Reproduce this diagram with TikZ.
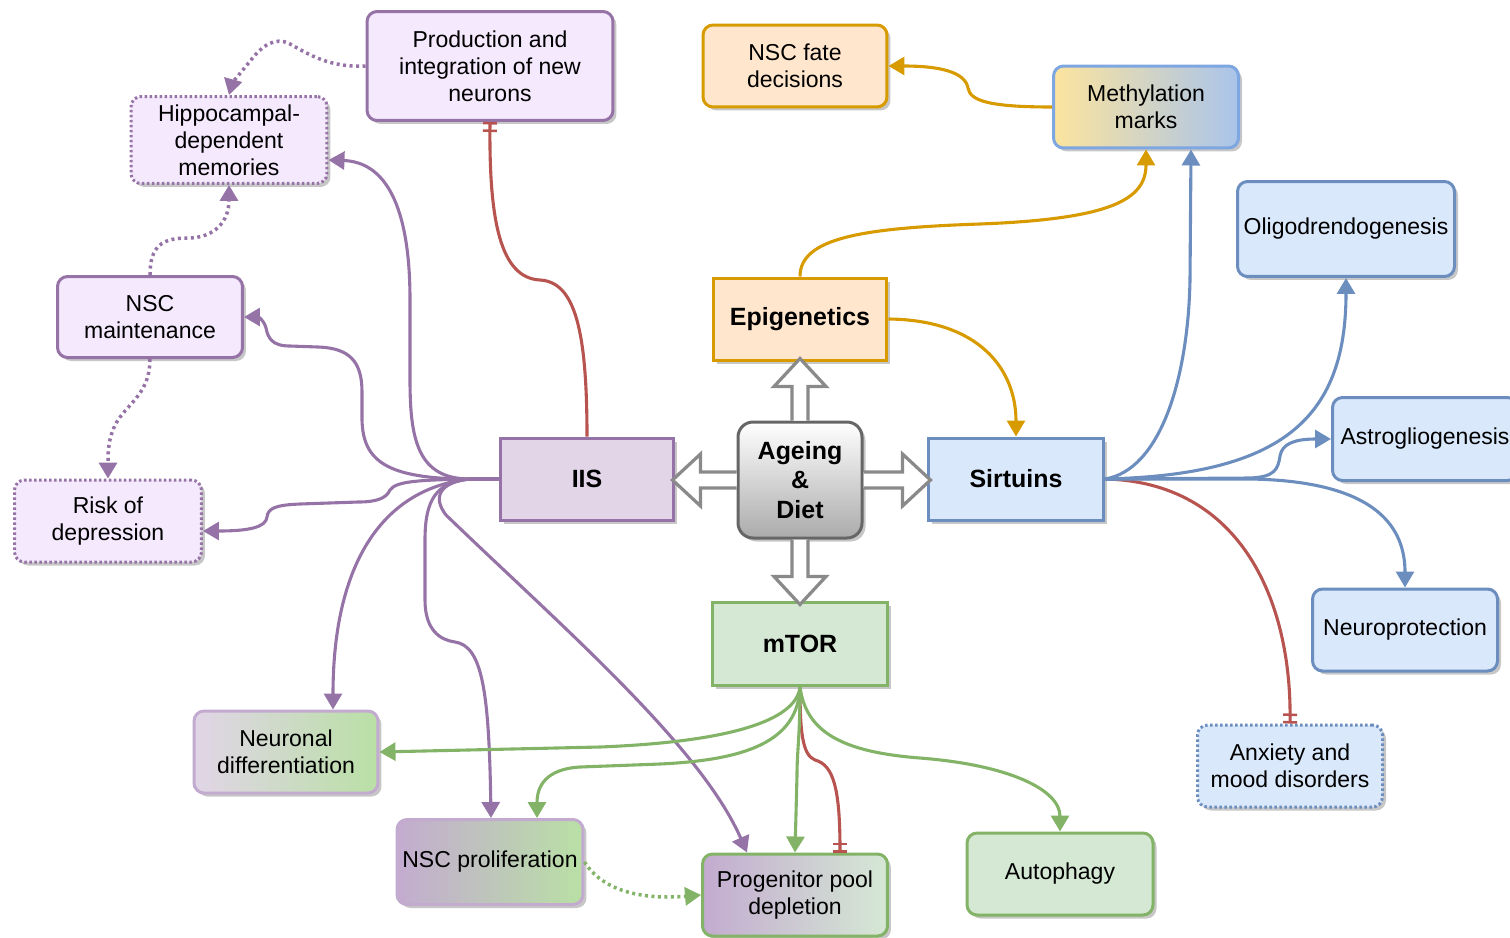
\documentclass[tikz,border=0pt]{standalone}
\usepackage{fontspec}
\setmainfont{Liberation Sans}
\usetikzlibrary{arrows.meta,positioning,shadows,calc}
\definecolor{purpline}{HTML}{9673A6}
\definecolor{purpfill}{HTML}{E1D5E7}
\definecolor{lavfill}{HTML}{F5E9FD}
\definecolor{lilac}{HTML}{C3ABD0}
\definecolor{orangeline}{HTML}{D79B00}
\definecolor{orangefill}{HTML}{FFE6CC}
\definecolor{blueline}{HTML}{6C8EBF}
\definecolor{bluefill}{HTML}{DAE8FC}
\definecolor{skyline}{HTML}{7EA6E0}
\definecolor{skyfill}{HTML}{A9C4EB}
\definecolor{sandfill}{HTML}{FCE49E}
\definecolor{greenline}{HTML}{82B366}
\definecolor{greenfill}{HTML}{D5E8D4}
\definecolor{leaffill}{HTML}{B9E0A5}
\definecolor{redline}{HTML}{B85450}
\definecolor{arrgray}{HTML}{8A8A8A}

\tikzset{
  box/.style={line width=0.06cm, align=center, inner sep=1pt, text=black,
    font=\fontsize{13.1}{15.4}\selectfont,
    drop shadow={shadow xshift=0.07cm, shadow yshift=-0.07cm, fill=black, opacity=0.22}},
  rbox/.style={box, rounded corners=0.2cm},
  dotbox/.style={rbox, dash pattern=on 0.05cm off 0.05cm},
  hub/.style={box, font=\fontsize{14.2}{17}\selectfont\bfseries},
  link/.style={line width=0.062cm, -{Triangle[length=0.32cm,width=0.36cm]}},
  dotlink/.style={link, line width=0.07cm, dash pattern=on 0.06cm off 0.07cm},
  cutoff/.style={line width=0.062cm, draw=redline,
    -{Bar[width=0.28cm,line width=0.05cm,sep=0.1cm]Bar[width=0.28cm,line width=0.05cm]}},
  fatarr/.style={draw=arrgray, fill=white, line width=0.065cm},
  pics/bigarrow/.style={code={
    \path[fatarr] (-8,0) -- (-8,{28-#1}) -- (-26,{28-#1}) -- (0,-#1)
      -- (26,{28-#1}) -- (8,{28-#1}) -- (8,0);}}
}

\begin{document}
\begin{tikzpicture}[x=0.02cm, y=-0.02cm]
  \useasboundingbox (0,0) rectangle (1510,937);
  \clip (0,0) rectangle (1510,937);

  % hubs
  \node[box, rounded corners=0.3cm, draw=black!60, top color=white, bottom color=black!33,
    minimum width=2.48cm, minimum height=2.32cm, font=\fontsize{14.2}{17}\selectfont\bfseries]
    (age) at (800,480) {Ageing\\\&\\Diet};
  \node[hub, draw=purpline, fill=purpfill, minimum width=3.48cm, minimum height=1.64cm] (iis) at (587,479) {IIS};
  \node[hub, draw=orangeline, fill=orangefill, minimum width=3.48cm, minimum height=1.64cm] (epi) at (800,319) {Epigenetics};
  \node[hub, draw=blueline, fill=bluefill, minimum width=3.5cm, minimum height=1.64cm] (sirt) at (1016,479) {Sirtuins};
  \node[hub, draw=greenline, fill=greenfill, minimum width=3.5cm, minimum height=1.66cm] (mtor) at (800,644) {mTOR};

  % block arrows
  \pic at (age.north) {bigarrow=62};
  \pic[rotate=90] at (age.west) {bigarrow=64};
  \pic[rotate=-90] at (age.east) {bigarrow=67};
  \pic[rotate=180] at (age.south) {bigarrow=65};

  % IIS side
  \node[rbox, draw=purpline, fill=lavfill, minimum width=4.92cm, minimum height=2.18cm] (prod) at (490,66) {Production and\\integration of new\\neurons};
  \node[dotbox, draw=purpline, fill=lavfill, minimum width=3.92cm, minimum height=1.74cm] (hippo) at (229,140) {Hippocampal-\\dependent\\memories};
  \node[rbox, draw=purpline, fill=lavfill, minimum width=3.7cm, minimum height=1.62cm] (maint) at (150,317) {NSC\\maintenance};
  \node[dotbox, draw=purpline, fill=lavfill, minimum width=3.74cm, minimum height=1.64cm] (risk) at (108,521) {Risk of\\depression};

  % Epigenetics side
  \node[rbox, draw=orangeline, fill=orangefill, minimum width=3.68cm, minimum height=1.64cm] (fate) at (795,66) {NSC fate\\decisions};
  \node[rbox, draw=skyline, left color=sandfill, right color=skyfill, minimum width=3.7cm, minimum height=1.64cm] (meth) at (1146,107) {Methylation\\marks};

  % Sirtuins side
  \node[rbox, draw=blueline, fill=bluefill, minimum width=4.34cm, minimum height=1.9cm] (oligo) at (1346,229) {Oligodrendogenesis};
  \node[rbox, draw=blueline, fill=bluefill, minimum width=3.7cm, minimum height=1.66cm] (astro) at (1425,439) {Astrogliogenesis};
  \node[rbox, draw=blueline, fill=bluefill, minimum width=3.7cm, minimum height=1.64cm] (neuro) at (1405,630) {Neuroprotection};
  \node[dotbox, draw=blueline, fill=bluefill, minimum width=3.7cm, minimum height=1.64cm] (anx) at (1290,766) {Anxiety and\\mood disorders};

  % mTOR side
  \node[rbox, draw=lilac, left color=purpfill, right color=leaffill, minimum width=3.68cm, minimum height=1.64cm] (neurdiff) at (286,752) {Neuronal\\differentiation};
  \node[rbox, draw=lilac, left color=lilac, right color=leaffill, minimum width=3.72cm, minimum height=1.7cm] (prolif) at (490,862) {NSC proliferation};
  \node[rbox, draw=greenline, left color=lilac, right color=greenfill, minimum width=3.7cm, minimum height=1.64cm] (depl) at (795,895) {Progenitor pool\\depletion};
  \node[rbox, draw=greenline, fill=greenfill, minimum width=3.72cm, minimum height=1.64cm] (auto) at (1060,874) {Autophagy};

  % IIS links
  \draw[link, purpline] (iis.west) -- (470,479) .. controls (418,479) and (410,440) .. (410,380) -- (410,300) .. controls (410,205) and (385,162) .. ($(hippo.east)+(0,20)$);
  \draw[link, purpline] (iis.west) -- (470,479) .. controls (385,479) and (363,460) .. (362,420) -- (362,392) .. controls (362,362) and (350,348) .. (318,347) -- (290,346) .. controls (272,346) and (268,338) .. (266,328) .. controls (264,320) and (258,317) .. (maint.east);
  \draw[link, purpline] (iis.west) -- (470,479) .. controls (420,480) and (396,481) .. (390,490) .. controls (386,499) and (375,502) .. (358,502) -- (300,504) .. controls (276,505) and (268,508) .. (267,517) .. controls (266,527) and (250,531) .. ($(risk.east)+(0,10)$);
  \draw[link, purpline] (iis.west) -- (470,479) .. controls (385,488) and (333,560) .. ($(neurdiff.north)+(47,0)$);
  \draw[link, purpline] (iis.west) -- (470,479) .. controls (436,482) and (425,500) .. (425,540) -- (425,600) .. controls (425,630) and (440,640) .. (455,642) .. controls (482,646) and (489,690) .. ($(prolif.north)+(1,0)$);
  \draw[link, purpline] (iis.west) -- (470,479) .. controls (440,482) and (432,497) .. (446,515) .. controls (560,625) and (700,745) .. ($(depl.north)+(-48,0)$);
  \draw[dotlink, purpline] (prod.west) .. controls (330,68) and (308,54) .. (290,44) .. controls (275,36) and (262,46) .. (251,60) .. controls (241,72) and (232,84) .. (hippo.north);
  \draw[dotlink, purpline] (maint.north) .. controls (150,245) and (163,238) .. (188,238) .. controls (214,238) and (229,222) .. (hippo.south);
  \draw[dotlink, purpline] (maint.south) .. controls (150,392) and (130,402) .. (118,420) .. controls (108,436) and (108,452) .. (risk.north);

  % inhibitions
  \draw[cutoff] (iis.north) .. controls (587,330) and (575,282) .. (540,280) .. controls (500,278) and (489,220) .. (prod.south);
  \draw[cutoff] (sirt.east) .. controls (1240,482) and (1292,600) .. (anx.north);
  \draw[cutoff] (mtor.south) .. controls (800,730) and (802,755) .. (815,760) .. controls (834,765) and (840,790) .. ($(depl.north)+(45,0)$);

  % mTOR links
  \draw[link, greenline] (mtor.south) .. controls (796,722) and (725,742) .. (600,747) -- (neurdiff.east);
  \draw[link, greenline] (mtor.south) .. controls (798,742) and (745,760) .. (660,764) -- (580,767) .. controls (546,769) and (537,786) .. ($(prolif.north)+(47,0)$);
  \draw[link, greenline] (mtor.south) .. controls (800,738) and (797,750) .. (797,775) -- (depl.north);
  \draw[link, greenline] (mtor.south) .. controls (806,732) and (842,752) .. (920,758) .. controls (1010,765) and (1060,790) .. (auto.north);
  \draw[dotlink, greenline] (prolif.east) .. controls (602,890) and (640,900) .. (depl.west);

  % Epigenetics links
  \draw[link, orangeline] (epi.north) .. controls (800,238) and (862,228) .. (980,224) .. controls (1110,219) and (1146,200) .. (meth.south);
  \draw[link, orangeline] (epi.east) .. controls (980,320) and (1016,370) .. (sirt.north);
  \draw[link, orangeline] (meth.west) .. controls (990,107) and (970,101) .. (968,88) .. controls (965,72) and (940,66) .. (fate.east);

  % Sirtuins links
  \draw[link, blueline] (sirt.east) .. controls (1160,470) and (1188,380) .. (1190,280) -- ($(meth.south)+(45,0)$);
  \draw[link, blueline] (sirt.east) .. controls (1280,475) and (1346,420) .. (oligo.south);
  \draw[link, blueline] (sirt.east) -- (1250,478) .. controls (1274,477) and (1278,470) .. (1280,456) .. controls (1282,444) and (1294,439) .. (astro.west);
  \draw[link, blueline] (sirt.east) -- (1250,479) .. controls (1380,481) and (1405,530) .. (neuro.north);
\end{tikzpicture}
\end{document}
